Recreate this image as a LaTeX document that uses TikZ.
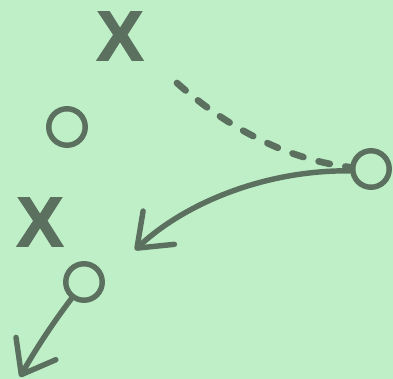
\documentclass[tikz,border=0pt]{standalone}
\usepackage{fontspec}
\newfontfamily\markfont{Liberation Sans}[BoldFeatures={FakeBold=2}]
\usetikzlibrary{arrows.meta}
\definecolor{chalkgreen}{RGB}{190,239,198}
\definecolor{playink}{RGB}{92,112,96}
\tikzset{
  defender/.style={font=\markfont\bfseries\fontsize{40}{40}\selectfont, text=playink, inner sep=0pt},
  attacker/.style={draw=playink, circle, line width=3.1pt, minimum size=0.73cm, inner sep=0pt}
}
\tikzset{
  runline/.style={draw=playink, line width=3.1pt, line cap=round, -{Straight Barb[length=17pt,width=26pt,round]}},
  cutline/.style={draw=playink, line width=3.8pt, line cap=round, dash pattern=on 6.5pt off 9pt}
}

\begin{document}
\begin{tikzpicture}[x=0.02cm, y=-0.02cm]
  \fill[chalkgreen] (0,0) rectangle (393,379);
  \useasboundingbox (0,0) rectangle (393,379);
  \node[defender] (x1) at (120,36) {X};
  \node[attacker] (o1) at (67,127) {};
  \node[attacker] (o2) at (371,169) {};
  \node[defender] (x2) at (40,222) {X};
  \node[attacker] (o3) at (84,282) {};
  \coordinate (cut) at (177,83);
  \coordinate (pass) at (135,250);
  \coordinate (run) at (20,377);
  % dashed route into the right-hand O, then the two runs
  \draw[cutline] (cut) .. controls (230,130) and (290,160) .. (o2.175);
  \draw[runline] (o2.185) .. controls (265,170) and (185,203) .. (pass);
  \draw[runline] (o3.233) .. controls (52,324) and (34,352) .. (run);
\end{tikzpicture}
\end{document}
